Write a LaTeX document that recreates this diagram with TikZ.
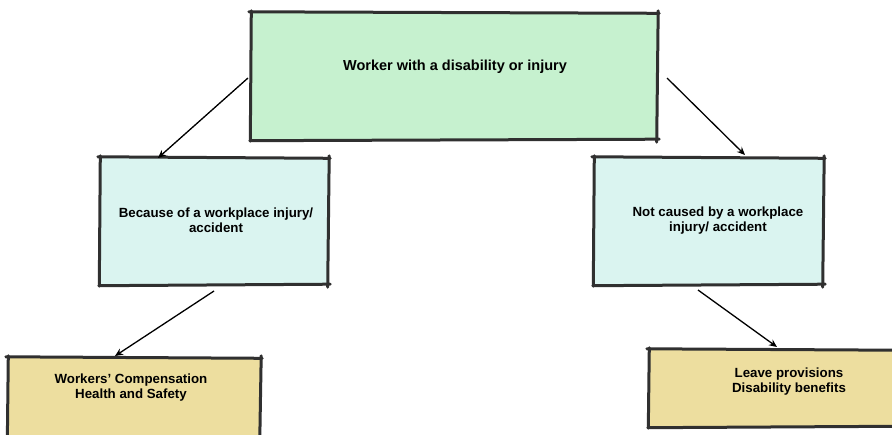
\documentclass[tikz,border=0pt]{standalone}
\usepackage{fontspec}
\setmainfont{Liberation Sans}
\usetikzlibrary{arrows.meta}
\definecolor{boxline}{HTML}{303030}
\definecolor{topfill}{HTML}{C6F1CF}
\definecolor{midfill}{HTML}{DAF4F0}
\definecolor{lowfill}{HTML}{EDDE9F}
% hand-drawn outline: four slightly skewed edges that overshoot the corners
\newcommand{\sketchedges}[1]{%
  \draw[edgeline] ([xshift=-2pt,yshift=1pt]#1.north west) -- ([xshift=2pt,yshift=-0.5pt]#1.north east);
  \draw[edgeline] ([xshift=1pt,yshift=2pt]#1.north east) -- ([xshift=-0.5pt,yshift=-2pt]#1.south east);
  \draw[edgeline] ([xshift=2pt,yshift=1pt]#1.south east) -- ([xshift=-1pt,yshift=-0.5pt]#1.south west);
  \draw[edgeline] ([xshift=-0.5pt,yshift=-1pt]#1.south west) -- ([xshift=0.5pt,yshift=2pt]#1.north west);
}
\begin{document}
\begin{tikzpicture}[x=1pt,y=1pt,
  sketchbox/.style={rectangle, inner sep=0pt},
  edgeline/.style={draw=boxline, line width=3pt, line cap=round},
  toptext/.style={font=\bfseries\fontsize{14.5}{17}\selectfont, align=center, text=black, inner sep=0pt},
  boxtext/.style={font=\bfseries\fontsize{13.3}{15}\selectfont, align=center, text=black, inner sep=0pt},
  link/.style={draw=black, line width=1.3pt, -{Stealth[length=8pt,width=7pt]}}]
\useasboundingbox (0,0) rectangle (892,434);
\fill[white] (0,0) rectangle (892,434);
\begin{scope}
\clip (0,0) rectangle (892,434);
% boxes
\node[sketchbox, fill=topfill, minimum width=406pt, minimum height=127pt] (top) at (454,357.5) {};
\node[sketchbox, fill=midfill, minimum width=228pt, minimum height=127pt] (left) at (214,212.5) {};
\node[sketchbox, fill=midfill, minimum width=229pt, minimum height=127pt] (right) at (708.5,212.5) {};
\node[sketchbox, fill=lowfill, minimum width=252pt, minimum height=84pt] (lowleft) at (134,34) {};
\node[sketchbox, fill=lowfill, minimum width=260pt, minimum height=77pt] (lowright) at (779,45.5) {};
\sketchedges{top}
\sketchedges{left}
\sketchedges{right}
\sketchedges{lowleft}
\sketchedges{lowright}
% labels
\node[toptext] (toptext) at (455,367) {Worker with a disability or injury};
\node[boxtext] (lefttext) at (216,213.5) {Because of a workplace injury/\\accident};
\node[boxtext] (righttext) at (718,213.5) {Not caused by a workplace\\injury/ accident};
\node[boxtext] (lowlefttext) at (131,46.5) {Workers' Compensation\\Health and Safety};
\node[boxtext] (lowrighttext) at (789,52) {Leave provisions\\Disability benefits};
% connectors
\coordinate (a1) at (248,356);
\coordinate (a1e) at (158,276);
\coordinate (a2) at (667,356);
\coordinate (a2e) at (745,279);
\coordinate (a3) at (214,143);
\coordinate (a3e) at (115,78);
\coordinate (a4) at (698,144);
\coordinate (a4e) at (777,87);
\draw[link] (a1) -- (a1e);
\draw[link] (a2) -- (a2e);
\draw[link] (a3) -- (a3e);
\draw[link] (a4) -- (a4e);
\end{scope}
\end{tikzpicture}
\end{document}
